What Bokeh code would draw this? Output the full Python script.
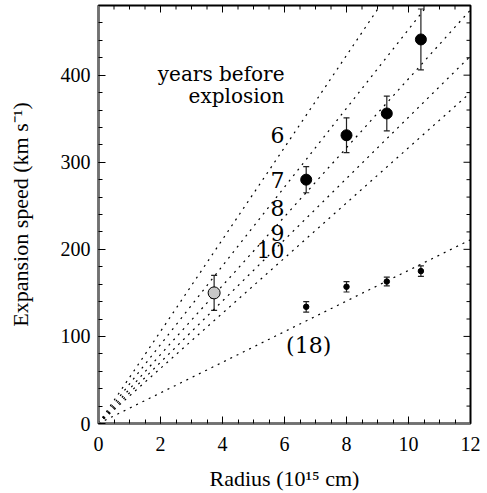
import math
from bokeh.plotting import figure
from bokeh.models import (ColumnDataSource, Whisker, TeeHead, Range1d,
                          SingleIntervalTicker)
from bokeh.core.properties import value
from bokeh.embed import file_html
from bokeh.resources import INLINE

# ---- data ----
# large black points (years-before-explosion shells)
big_r = [6.7, 8.0, 9.3, 10.4]
big_v = [280, 331, 356, 441]
big_err = [15, 20, 20, 35]

# grey point
grey_r = [3.73]
grey_v = [150]
grey_err = [20]

# small points
small_r = [6.7, 8.0, 9.3, 10.4]
small_v = [134, 157, 163, 175]
small_err = [6, 6, 5, 6]

# constant-age lines: years and speed reached at radius 12
line_years = ["6", "7", "8", "9", "10", "(18)"]
line_v_at_12 = [634, 543, 475, 422, 380, 211]

# line labels
lab_text = ["6", "7", "8", "9", "10"]
lab_r = [6.0, 6.0, 6.0, 6.0, 6.0]
lab_v = [331, 280, 248, 219, 199]
lab18_r = [6.78]
lab18_v = [90]

# tick positions for the top / right frame edges
x_major_ticks = [2, 4, 6, 8, 10]
x_minor_ticks = [0.5, 1, 1.5, 2.5, 3, 3.5, 4.5, 5, 5.5, 6.5, 7, 7.5, 8.5, 9, 9.5,
                 10.5, 11, 11.5]
y_major_ticks = [100, 200, 300, 400]
y_minor_ticks = [20, 40, 60, 80, 120, 140, 160, 180, 220, 240, 260, 280, 320, 340,
                 360, 380, 420, 440, 460]

X_MAX = 12
Y_MAX = 480

SERIF = '"DejaVu Serif", serif'
AXFONT = "serif"

p = figure(width=487, height=493, output_backend="svg", toolbar_location=None,
           x_range=Range1d(0, X_MAX), y_range=Range1d(0, Y_MAX),
           min_border_left=98, min_border_right=17, min_border_top=5,
           min_border_bottom=70)
p.background_fill_color = "white"
p.border_fill_color = "white"
p.outline_line_color = "black"
p.outline_line_width = 2
p.xgrid.visible = False
p.ygrid.visible = False

# top and right frame ticks (inward)
p.ray(x_major_ticks, [Y_MAX] * len(x_major_ticks), length=7, length_units="screen",
      angle=-math.pi / 2, line_color="black", line_width=1)
p.ray(x_minor_ticks, [Y_MAX] * len(x_minor_ticks), length=4, length_units="screen",
      angle=-math.pi / 2, line_color="black", line_width=1)
p.ray([X_MAX] * len(y_major_ticks), y_major_ticks, length=7, length_units="screen",
      angle=math.pi, line_color="black", line_width=1)
p.ray([X_MAX] * len(y_minor_ticks), y_minor_ticks, length=4, length_units="screen",
      angle=math.pi, line_color="black", line_width=1)

# dotted constant-age lines
for ye, v12 in zip(line_years, line_v_at_12):
    p.line([0, X_MAX], [0, v12], line_color="black", line_width=1.2, line_dash="2 5")

# error bars
def add_err(r, v, e, size, width):
    src = ColumnDataSource(dict(x=r, lo=[a - b for a, b in zip(v, e)],
                                hi=[a + b for a, b in zip(v, e)]))
    w = Whisker(source=src, base="x", lower="lo", upper="hi", dimension="height",
                line_color="#222222", line_width=width,
                upper_head=TeeHead(size=size, line_color="#222222", line_width=width),
                lower_head=TeeHead(size=size, line_color="#222222", line_width=width))
    p.add_layout(w)

add_err(big_r, big_v, big_err, 6, 1.2)
add_err(grey_r, grey_v, grey_err, 6, 1.2)
add_err(small_r, small_v, small_err, 6, 1.2)

p.scatter(big_r, big_v, size=11, fill_color="black", line_color="black")
p.scatter(grey_r, grey_v, size=12, fill_color="#c8c8c8", line_color="black", line_width=1)
p.scatter(small_r, small_v, size=5.5, fill_color="black", line_color="black")

# annotations
p.text([6.0], [401], text=["years before"], text_align="right", text_baseline="middle",
       text_font=value(SERIF), text_font_size="20px", text_color="black")
p.text([6.0], [376], text=["explosion"], text_align="right", text_baseline="middle",
       text_font=value(SERIF), text_font_size="20px", text_color="black")
p.text(lab_r, lab_v, text=lab_text, text_align="right", text_baseline="middle",
       text_font=value(SERIF), text_font_size="22px", text_color="black")
p.text(lab18_r, lab18_v, text=[line_years[-1]], text_align="center", text_baseline="middle",
       text_font=value(SERIF), text_font_size="22px", text_color="black")

def style_axis(ax, line_color="black"):
    ax.axis_line_color = line_color
    ax.axis_line_width = 2
    ax.major_tick_in = 7
    ax.major_tick_out = 0
    ax.minor_tick_in = 4
    ax.minor_tick_out = 0
    ax.major_tick_line_color = "black"
    ax.minor_tick_line_color = "black"
    ax.major_label_text_font = AXFONT
    ax.major_label_text_font_size = "20px"
    ax.major_label_text_color = "black"
    ax.axis_label_text_font = AXFONT
    ax.axis_label_text_font_size = "22px"
    ax.axis_label_text_font_style = "normal"
    ax.axis_label_text_color = "black"

xa = p.xaxis[0]
xa.ticker = SingleIntervalTicker(interval=2, num_minor_ticks=4)
style_axis(xa, "#707070")
xa.axis_label = "Radius (10¹⁵ cm)"
xa.major_label_standoff = 13
xa.axis_label_standoff = 12

ya = p.yaxis[0]
ya.ticker = SingleIntervalTicker(interval=100, num_minor_ticks=5)
style_axis(ya, "#707070")
ya.axis_label = "Expansion speed (km s⁻¹)"
ya.major_label_standoff = 8
ya.axis_label_standoff = 25
ya.major_label_orientation = "horizontal"

open("out.html", "w").write(file_html(p, INLINE))
